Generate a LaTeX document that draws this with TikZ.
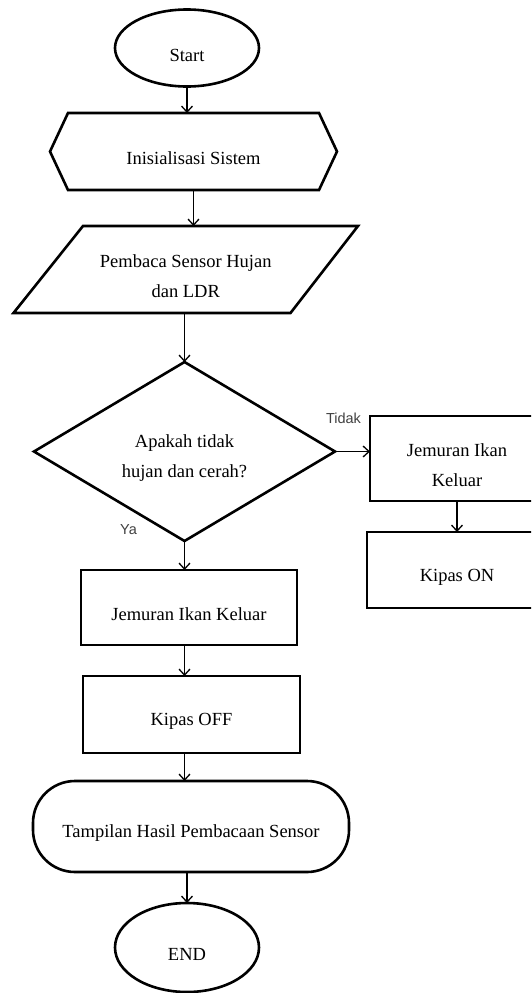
\documentclass[tikz,border=0pt]{standalone}
\usepackage{fontspec}
\setmainfont{Liberation Serif}
\newfontfamily\lsans{Liberation Sans}
\usetikzlibrary{arrows.meta,shapes.geometric,calc}
\begin{document}
\begin{tikzpicture}[x=1pt,y=-1pt,
  shapeline/.style={line width=2.6pt, line join=miter},
  box/.style={draw, rectangle, line width=2.6pt, inner sep=0pt, outer sep=0pt},
  ghost/.style={rectangle, inner sep=0pt, outer sep=0pt},
  ell/.style={draw, ellipse, line width=2.6pt, inner sep=0pt, outer sep=0pt},
  txt/.style={label={[font=\fontsize{18.5}{30}\selectfont, align=center, yshift=-7pt, inner sep=0pt]center:#1}},
  arr/.style={line width=1.3pt, -{Straight Barb[length=6pt,width=11pt,line width=1.3pt]}},
  lab/.style={font=\lsans\fontsize{14.5}{17}\selectfont, text=black!75, inner sep=0pt}
]
\useasboundingbox (0,0) rectangle (531,993);
\clip (0,0) rectangle (531,993);

% nodes
\node[ell, minimum width=144pt, minimum height=77pt, txt=Start] (start) at (187,48) {};
\node[ghost, minimum width=287pt, minimum height=77pt, txt=Inisialisasi Sistem] (init) at (193.5,151.5) {};
\node[ghost, minimum width=344.5pt, minimum height=87pt, txt={Pembaca Sensor Hujan\\dan LDR}] (read) at (185.75,269.5) {};
\node[ghost, minimum width=301pt, minimum height=179pt, txt={Apakah tidak\\hujan dan cerah?}] (dec) at (184.5,451.5) {};
\node[box, minimum width=174pt, minimum height=85pt, txt={Jemuran Ikan\\Keluar}] (no1) at (457,458.5) {};
\node[box, minimum width=180pt, minimum height=76pt, txt=Kipas ON] (no2) at (457,570) {};
\node[box, minimum width=216pt, minimum height=75pt, txt=Jemuran Ikan Keluar] (yes1) at (189,607.5) {};
\node[box, minimum width=217pt, minimum height=77pt, txt=Kipas OFF] (yes2) at (191.5,714.5) {};
\node[box, rounded corners=42pt, minimum width=316pt, minimum height=91pt, txt=Tampilan Hasil Pembacaan Sensor] (show) at (191,826.5) {};
\node[ell, minimum width=144pt, minimum height=89pt, txt=END] (end) at (187,947.5) {};

\node[lab] (tidak) at (343.5,418) {Tidak};
\node[lab] (ya) at (128.5,530) {Ya};

% outlines of special shapes
\draw[shapeline] (init.west) -- ([xshift=18pt]init.north west) -- ([xshift=-18pt]init.north east)
  -- (init.east) -- ([xshift=-18pt]init.south east) -- ([xshift=18pt]init.south west) -- cycle;
\draw[shapeline] ([xshift=69.5pt]read.north west) -- (read.north east)
  -- ([xshift=-67.5pt]read.south east) -- (read.south west) -- cycle;
\draw[shapeline] (dec.north) -- (dec.east) -- (dec.south) -- (dec.west) -- cycle;

% connectors
\draw[arr] (start.south) -- (start.south |- init.north);
\draw[arr] (init.south) -- (init.south |- read.north);
\draw[arr] (read.south -| dec.north) -- (dec.north);
\draw[arr] (dec.east) -- (dec.east -| no1.west);
\draw[arr] (no1.south) -- (no1.south |- no2.north);
\draw[arr] (dec.south) -- (dec.south |- yes1.north);
\draw[arr] (dec.south |- yes1.south) -- (dec.south |- yes2.north);
\draw[arr] (dec.south |- yes2.south) -- (dec.south |- show.north);
\draw[arr] (end.north |- show.south) -- (end.north);
\end{tikzpicture}
\end{document}
